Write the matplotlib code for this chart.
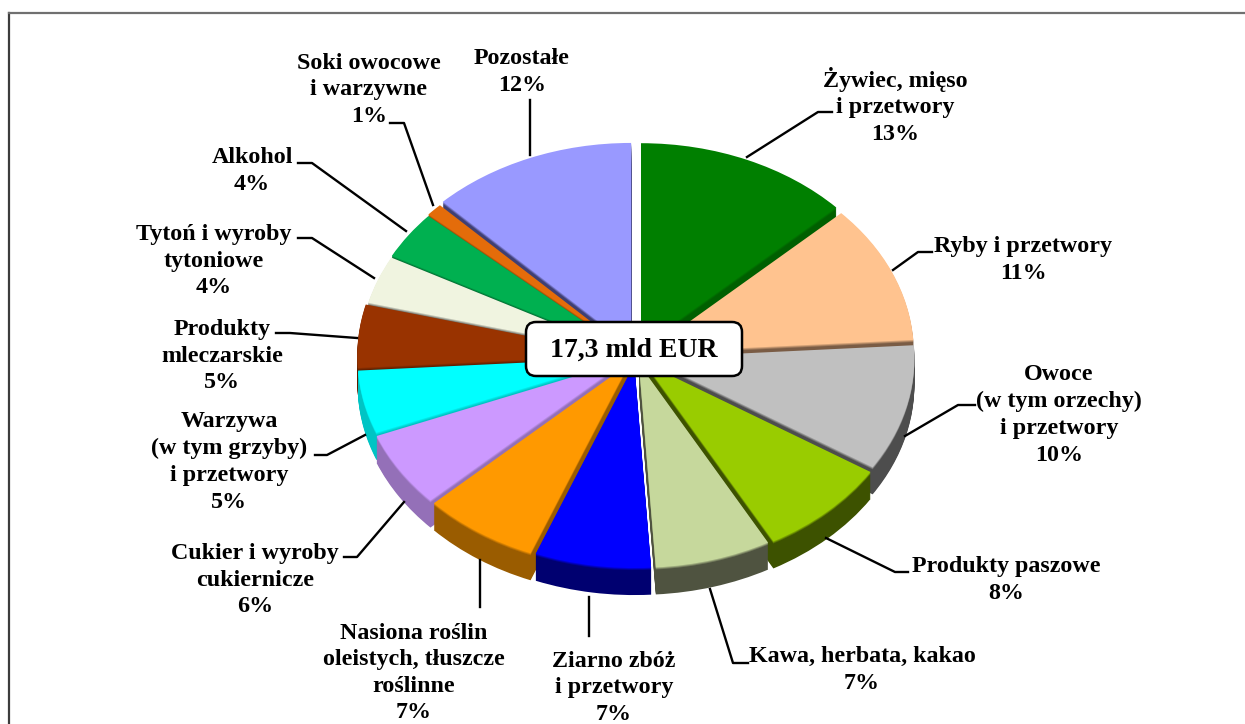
import matplotlib
matplotlib.use("Agg")
import matplotlib.pyplot as plt
from matplotlib.colors import to_rgb
from matplotlib.patches import FancyBboxPatch
from matplotlib.lines import Line2D
import math

W, H = 1245, 724
values = [13, 11, 10, 8, 7, 7, 7, 6, 5, 5, 3.8, 3.8, 1, 12.4]
labels = ["Żywiec, mięso\ni przetwory\n13%", "Ryby i przetwory\n11%",
          "Owoce\n(w tym orzechy)\ni przetwory\n10%", "Produkty paszowe\n8%",
          "Kawa, herbata, kakao\n7%", "Ziarno zbóż\ni przetwory\n7%",
          "Nasiona roślin\noleistych, tłuszcze\nroślinne\n7%",
          "Cukier i wyroby\ncukiernicze\n6%", "Warzywa\n(w tym grzyby)\ni przetwory\n5%",
          "Produkty\nmleczarskie\n5%", "Tytoń i wyroby\ntytoniowe\n4%",
          "Alkohol\n4%", "Soki owocowe\ni warzywne\n1%", "Pozostałe\n12%"]
top_colors = ["#007F00", "#FFC38F", "#C0C0C0", "#99CC00", "#C6D89C", "#0000FF", "#FF9900",
              "#CC99FF", "#00FFFF", "#993300", "#F0F4E0", "#00B050", "#E46C0A", "#9999FF"]
side_colors = ["#005F00", "#7A5C45", "#4D4D4D", "#3D5200", "#4F5340", "#000070", "#9A5C00",
               "#9470B8", "#00C4C4", "#5A1E00", "#666660", "#005A28", "#7A3A05", "#3F3F73"]
explode = [0.047, 0.04, 0.04, 0.045, 0.04, 0.04, 0.045, 0.045, 0.04, 0.04, 0.033, 0.035, 0.04, 0.048]
label_pos = [(895, 106), (1023, 260), (1059, 415), (1006, 580), (862, 670), (614, 688), (414, 673),
             (255, 580), (229, 462), (222, 356), (214, 261), (252, 171), (369, 90), (522, 72)]
leaders = [[(747, 157), (818, 112), (832, 112)], [(893, 270), (918, 252), (932, 252)],
           [(905, 436), (958, 405), (975, 405)], [(826, 538), (895, 572), (908, 572)],
           [(710, 589), (733, 663), (748, 663)], [(589, 597), (589, 636)],
           [(480, 560), (480, 607)], [(404, 502), (357, 557), (344, 557)],
           [(365, 435), (327, 455), (315, 455)], [(357, 338), (290, 333), (276, 333)],
           [(374, 278), (312, 238), (298, 238)], [(406, 231), (312, 163), (298, 163)],
           [(433, 205), (404, 123), (390, 123)], [(530, 155), (530, 100)]]
center_text = "17,3 mld EUR"

CX, CY, RX, RY, DEPTH = 636, 356, 268, 204, 27
FONT = "Liberation Serif"


def blend(a, b, t):
    ca, cb = to_rgb(a), to_rgb(b)
    return tuple(x + (y - x) * t for x, y in zip(ca, cb))


fig = plt.figure(figsize=(W / 100, H / 100), dpi=100, facecolor="white")
ax = fig.add_axes([0, 0, 1, 1])

cum, mids = 0, []
for v in values:
    mids.append(90 - 3.6 * (cum + v / 2))
    cum += v
rank = {i: r for r, i in enumerate(sorted(range(len(values)), key=lambda k: -math.sin(math.radians(mids[k]))))}

for layer in range(DEPTH, -1, -1):
    if layer == 0:
        colors = top_colors
    elif layer == 1:
        colors = [blend(t, s, 0.35) for t, s in zip(top_colors, side_colors)]
    elif layer == 2:
        colors = [blend(t, s, 0.7) for t, s in zip(top_colors, side_colors)]
    else:
        colors = side_colors
    wedges, _ = ax.pie(values, colors=colors, explode=explode, startangle=90, counterclock=False,
                       center=(0, -layer / RY), radius=1, wedgeprops=dict(linewidth=0))
    for i, w in enumerate(wedges):
        w.set_zorder(1 + rank[i] + (DEPTH - layer) / (DEPTH + 2))

ax.set_aspect("auto")
ax.set_xlim(-CX / RX, (W - CX) / RX)
ax.set_ylim(-(H - CY) / RY, CY / RY)
ax.axis("off")

ov = fig.add_axes([0, 0, 1, 1], facecolor="none", zorder=5)
ov.set_xlim(0, W)
ov.set_ylim(H, 0)
ov.axis("off")

ov.add_line(Line2D([9, 9], [13, H], color="#3C3C3C", lw=1.6))
ov.add_line(Line2D([9, W], [13, 13], color="#707070", lw=1.6))

for pts in leaders:
    ov.add_line(Line2D([p[0] for p in pts], [p[1] for p in pts], color="black", lw=1.7))

for t, (x, y) in zip(labels, label_pos):
    ov.text(x, y, t, ha="center", va="center", family=FONT, weight="bold", fontsize=17.3,
            linespacing=1.35, color="black")

ov.add_patch(FancyBboxPatch((536, 332), 196, 34, boxstyle="round,pad=10,rounding_size=10",
                            fc="white", ec="black", lw=1.8))
ov.text(634, 350, center_text, ha="center", va="center", family=FONT, weight="bold", fontsize=20, color="black")

fig.savefig("out.png", dpi=100, facecolor="white")
